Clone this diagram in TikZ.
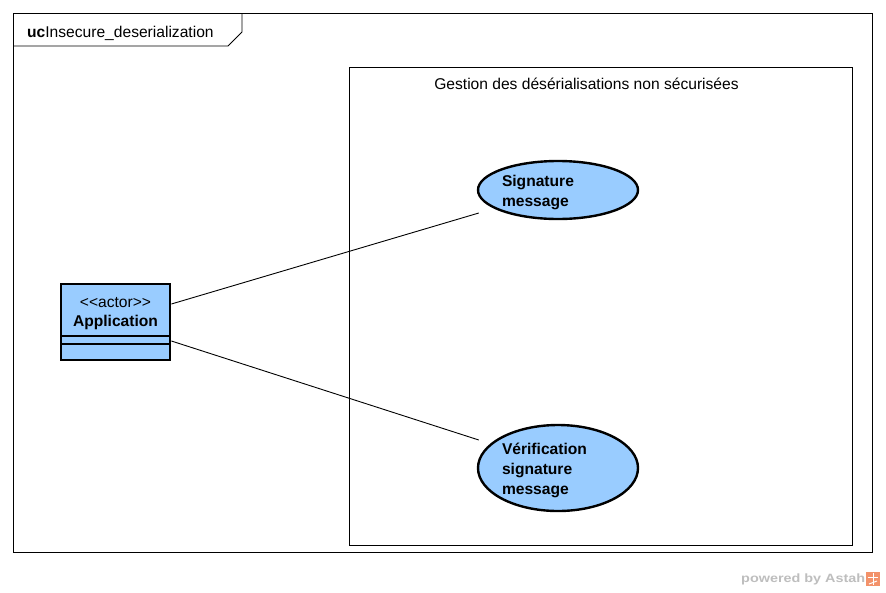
\documentclass[tikz,border=0pt]{standalone}
\usepackage{fontspec}
\setmainfont{Liberation Sans}
\usetikzlibrary{shapes.geometric}
\definecolor{ucblue}{HTML}{99CCFF}
\definecolor{astahgray}{HTML}{BEBEBE}
\definecolor{astahorange}{HTML}{F3926A}
\tikzset{
  frameline/.style={draw=black, line width=0.9pt},
  usecase/.style={ellipse, draw=black, line width=2.4pt, fill=ucblue, inner sep=0pt,
    minimum width=160pt},
  uctext/.style={inner sep=0pt, text width=112pt, align=left,
    font=\fontsize{15.6}{20}\selectfont\bfseries},
  actorbox/.style={rectangle, draw=black, line width=2.8pt, fill=ucblue,
    minimum width=109pt, minimum height=76pt, inner sep=0pt},
  assoc/.style={draw=black, line width=0.9pt},
  txt/.style={font=\fontsize{15.6}{20}\selectfont, inner sep=0pt}
}
\begin{document}
\begin{tikzpicture}[x=1pt,y=-1pt]
\useasboundingbox (0,0) rectangle (886,592);
\fill[white] (0,0) rectangle (886,592);
% outer frame
\draw[frameline] (13,13) rectangle (872,552);
\coordinate (t1) at (13,46);
\coordinate (t2) at (228,46);
\coordinate (t3) at (242,32);
\coordinate (t4) at (242,13);
\draw[frameline] (t1) -- (t2) -- (t3) -- (t4);
\node[txt, anchor=west] (frametitle) at (27,33.5) {\textbf{uc}Insecure\_deserialization};
% system boundary
\draw[frameline] (349,67) rectangle (852,545);
\node[txt] (systitle) at (586.5,83.5) {Gestion des désérialisations non sécurisées};
% actor
\node[actorbox] (actor) at (115.5,322) {};
\coordinate (c1a) at (61,336); \coordinate (c1b) at (170,336);
\coordinate (c2a) at (61,344); \coordinate (c2b) at (170,344);
\draw[line width=1.2pt] (c1a) -- (c1b);
\draw[line width=1.2pt] (c2a) -- (c2b);
\node[txt, align=center] (actortxt) at (115.5,313.5) {<\kern0pt<actor>\kern0pt>\\[-0.5pt]\textbf{Application}};
% use cases
\node[usecase, minimum height=58pt] (uc1) at (558,190) {};
\node[uctext] (uc1txt) at ([yshift=-2pt]uc1.center) {Signature\\message};
\node[usecase, minimum height=86pt] (uc2) at (558,468) {};
\node[uctext] (uc2txt) at ([yshift=-2pt]uc2.center) {Vérification\\signature\\message};
% associations
\draw[assoc] ([yshift=18pt]actor.east) -- ([xshift=2pt,yshift=-23pt]uc1.west);
\draw[assoc] ([yshift=-19pt]actor.east) -- ([xshift=2pt,yshift=28pt]uc2.west);
% watermark
\node[font=\fontsize{12}{14}\selectfont\bfseries, text=astahgray, inner sep=0pt, anchor=west] (powered) at (741,579) {\scalebox{1.2}[1]{powered by Astah}};
\node[fill=astahorange, minimum size=14pt, inner sep=0pt] (logo) at (873,579) {};
\draw[white, line width=1pt] ([shift={(-5pt,2pt)}]logo.center) -- ([shift={(5pt,2pt)}]logo.center);
\draw[white, line width=1pt] ([shift={(0pt,6pt)}]logo.center) -- ([shift={(0pt,-6pt)}]logo.center);
\draw[white, line width=1pt] ([shift={(-4pt,-5pt)}]logo.center) -- ([shift={(4pt,-2pt)}]logo.center);
\end{tikzpicture}
\end{document}
